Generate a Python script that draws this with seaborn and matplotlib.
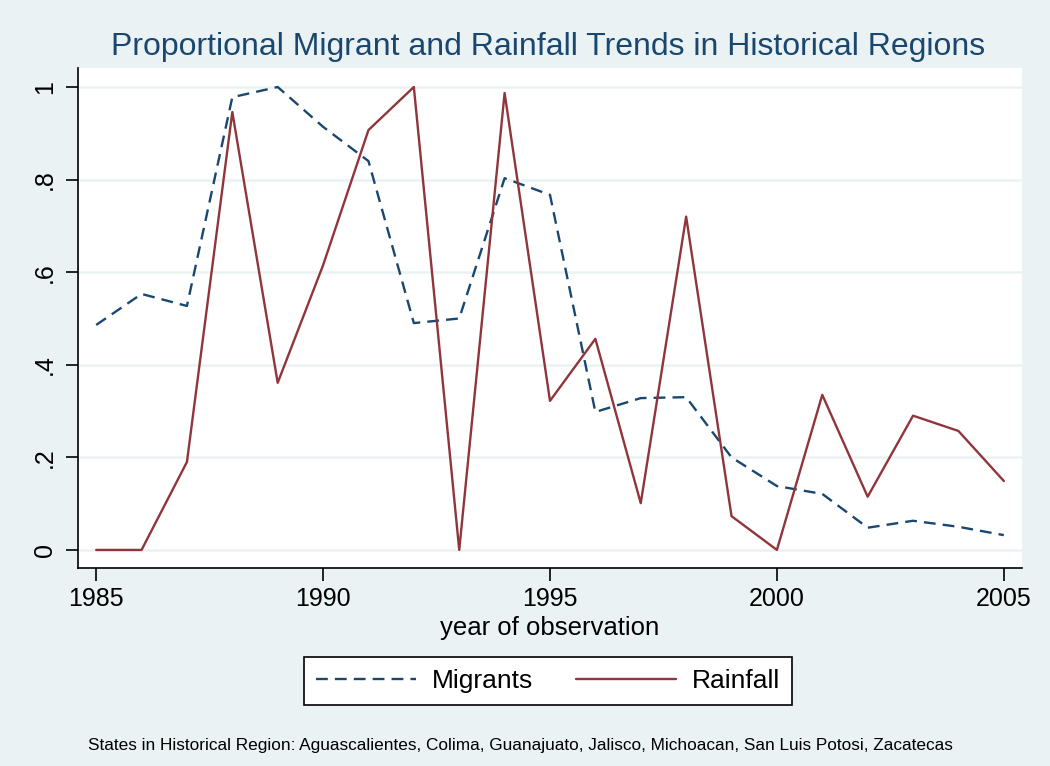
import pandas as pd
import matplotlib
matplotlib.use("Agg")
import matplotlib.pyplot as plt
import seaborn as sns

years = list(range(1985, 2006))
migrants = [0.486, 0.553, 0.527, 0.978, 1.0, 0.914, 0.84, 0.49, 0.50, 0.803, 0.767,
            0.298, 0.328, 0.33, 0.20, 0.138, 0.121, 0.048, 0.063, 0.05, 0.032]
rainfall = [0.0, 0.0, 0.19, 0.946, 0.361, 0.615, 0.907, 1.0, 0.0, 0.987, 0.322,
            0.456, 0.101, 0.72, 0.073, 0.0, 0.335, 0.115, 0.29, 0.257, 0.149]
series_names = ["Migrants", "Rainfall"]
y_ticks = [0, 0.2, 0.4, 0.6, 0.8, 1.0]
y_tick_labels = ["0", ".2", ".4", ".6", ".8", "1"]
x_ticks = [1985, 1990, 1995, 2000, 2005]

bg = "#EAF2F3"
navy = "#1A476F"
maroon = "#90353B"

df = pd.DataFrame({
    "year": years * 2,
    "value": migrants + rainfall,
    "series": [series_names[0]] * len(years) + [series_names[1]] * len(years),
})

sns.set_style("white")
plt.rcParams["font.family"] = ["Liberation Sans", "DejaVu Sans"]
plt.rcParams["text.color"] = "black"

fig = plt.figure(figsize=(10.5, 7.66), dpi=100, facecolor=bg)
ax = fig.add_axes([0.0743, 0.2585, 0.899, 0.6527])
ax.set_facecolor("white")

sns.lineplot(data=df, x="year", y="value", hue="series", style="series",
             palette={"Migrants": navy, "Rainfall": maroon},
             dashes={"Migrants": (5, 3), "Rainfall": ""},
             linewidth=1.7, ax=ax, legend=False)

ax.set_xlim(1984.6, 2005.4)
ax.set_ylim(-0.039, 1.041)
ax.set_yticks(y_ticks)
ax.set_yticklabels(y_tick_labels, rotation=90, va="center", fontsize=18)
ax.set_xticks(x_ticks)
ax.set_xticklabels([str(x) for x in x_ticks], fontsize=18)
ax.tick_params(axis="both", direction="out", length=9, width=1.2, color="black",
               labelcolor="black", bottom=True, left=True)
ax.tick_params(axis="y", pad=6)
ax.tick_params(axis="x", pad=5)
ax.yaxis.grid(True, color=bg, linewidth=1.8)
ax.xaxis.grid(False)
ax.set_axisbelow(True)
for side in ["top", "right"]:
    ax.spines[side].set_visible(False)
for side in ["left", "bottom"]:
    ax.spines[side].set_color("black")
    ax.spines[side].set_linewidth(1.2)

ax.set_xlabel("year of observation", fontsize=18.5, color="black", labelpad=3)
ax.set_ylabel("")
fig.text(0.522, 0.938, "Proportional Migrant and Rainfall Trends in Historical Regions",
         ha="center", va="center", fontsize=23, color=navy)

handles = [plt.Line2D([], [], color=navy, lw=1.7, dashes=(5, 3)),
           plt.Line2D([], [], color=maroon, lw=1.7)]
leg = fig.legend(handles, series_names, loc="center", bbox_to_anchor=(0.522, 0.111),
                 ncol=2, fontsize=19, frameon=True, fancybox=False, framealpha=1,
                 handlelength=3.8, columnspacing=1.6, handletextpad=0.6,
                 borderpad=0.45)
leg.get_frame().set_edgecolor("black")
leg.get_frame().set_linewidth(1.2)
leg.get_frame().set_facecolor("white")

fig.text(0.084, 0.027, "States in Historical Region: Aguascalientes, Colima, Guanajuato, "
         "Jalisco, Michoacan, San Luis Potosi, Zacatecas",
         ha="left", va="center", fontsize=12.4)

fig.savefig("out.png", dpi=100, facecolor=bg)
